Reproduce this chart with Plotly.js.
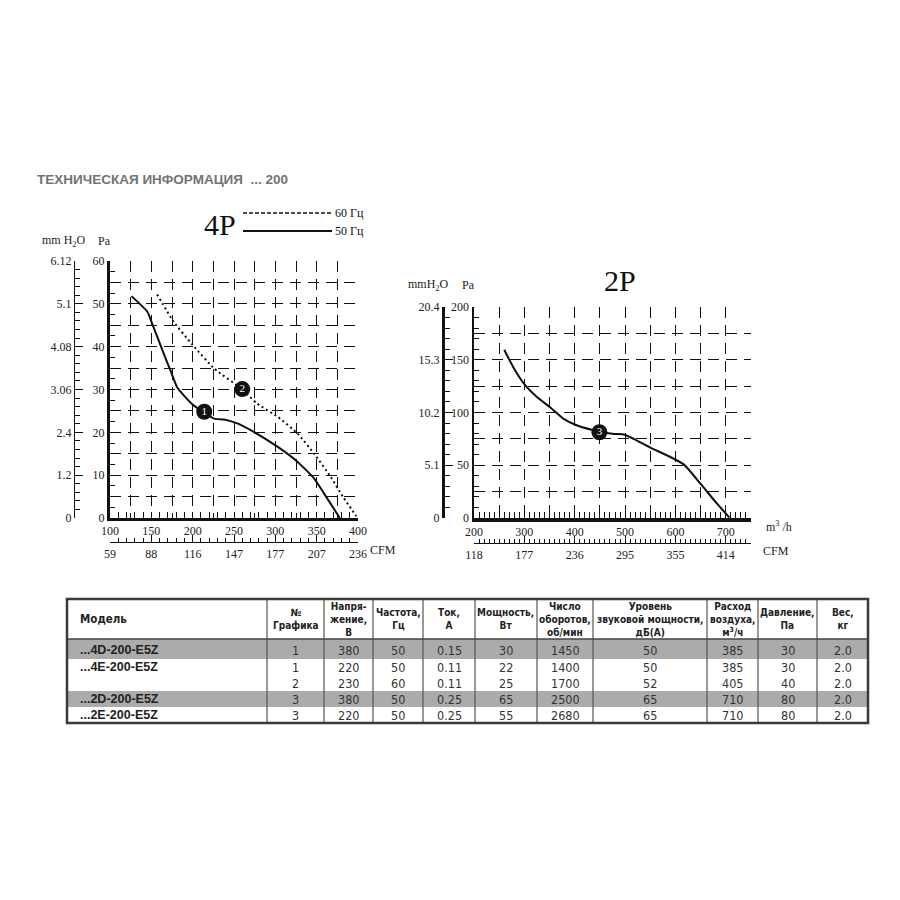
<!DOCTYPE html>
<html><head><meta charset="utf-8">
<script src="https://cdn.plot.ly/plotly-3.0.1.min.js"></script>
<style>html,body{margin:0;padding:0;background:#fff;}#chart{width:900px;height:900px;}</style>
</head><body><div id="chart"></div>
<script>
// ---- data: 4P chart (m3/h vs Pa) ----
const flow1 = [126,145,151,165,173,181,189,201,214,226,238,254,274,303,327,347,359,378];
const pres1 = [51.8,48.2,45.4,38.4,34.5,30.6,28.7,26.3,24.6,23.2,23.0,22.1,20.1,16.6,13.1,9.2,5.7,0];
const flow2 = [157,177,200,226,260,278,303,327,347,367,382,398];
const pres2 = [52.2,45.8,40.4,34.9,30.0,26.7,23.6,19.7,15.0,9.6,4.9,0.4];
const mark4PX = [214,260];
const mark4PY = [24.8,30.1];
const mark4PT = ['1','2'];
// ---- data: 2P chart ----
const flow3 = [260,278,302,325,351,378,405,449,478,498,517,551,584,617,650,683,707];
const pres3 = [159.5,143,125.6,114.6,105,94,87.7,82,79.7,79.1,75,66.5,59.2,50.6,32.3,13.3,0.5];
const mark2PX = [449];
const mark2PY = [81.3];
const mark2PT = ['3'];
// ---- tick labels ----
const pa4Vals = [0,10,20,30,40,50,60];
const mm4Text = ['0','1.2','2.4','3.06','4.08','5.1','6.12'];
const cfm4Vals = [100,150,200,250,300,350,400];
const cfm4Text = ['59','88','116','147','177','207','236'];
const m3h4Vals = [100,150,200,250,300,350,400];
const pa2Vals = [0,50,100,150,200];
const mm2Text = ['0','5.1','10.2','15.3','20.4'];
const cfm2Vals = [200,300,400,500,600,700];
const cfm2Text = ['118','177','236','295','355','414'];
const m3h2Vals = [200,300,400,500,600,700];
// ---- table data ----
const headers = ['Модель','№<br>Графика','Напря-<br>жение,<br>В','Частота,<br>Гц','Ток,<br>А','Мощность,<br>Вт','Число<br>оборотов,<br>об/мин','Уровень<br>звуковой мощности,<br>дБ(А)','Расход<br>воздуха,<br>м<sup>3</sup>/ч','Давление,<br>Па','Вес,<br>кг'];
const models = ['...4D-200-E5Z','...4E-200-E5Z','','...2D-200-E5Z','...2E-200-E5Z'];
const graphNo = ['1','1','2','3','3'];
const voltage = ['380','220','230','380','220'];
const freq = ['50','50','60','50','50'];
const current = ['0.15','0.11','0.11','0.25','0.25'];
const power = ['30','22','25','65','55'];
const rpm = ['1450','1400','1700','2500','2680'];
const noise = ['50','50','52','65','65'];
const airflow = ['385','385','405','710','710'];
const pressure = ['30','30','40','80','80'];
const weight = ['2.0','2.0','2.0','2.0','2.0'];
const grayRows = [0,3];

// ---- layout helpers ----
const W=900,H=900;
const X=p=>p/W, Y=p=>1-p/H;
const SERIF='Liberation Serif, DejaVu Serif, serif';
const NARROW='DejaVu Sans Condensed, Liberation Sans Narrow, Liberation Sans, sans-serif';
const SANS='Liberation Sans, Arial, sans-serif';
const tickFont={family:SERIF,size:12,color:'#222'};
const DASH='11px,7px';
function mainAxis(o){
  return Object.assign({showgrid:true,gridcolor:'#111',gridwidth:1,griddash:DASH,zeroline:false,showline:true,linecolor:'#111',
    fixedrange:true,tickfont:tickFont,ticks:''},o);
}
function tickAxis(over,anchor,rng,dt,t0,len){
  return {overlaying:over,anchor:anchor,range:rng,showline:false,showgrid:false,zeroline:false,showticklabels:false,
    ticks:'inside',dtick:dt,tick0:t0,ticklen:len,tickcolor:'#111',fixedrange:true};
}
function freeAxis(o){
  return Object.assign({anchor:'free',ticks:'inside',ticklen:7,tickcolor:'#111',showline:true,linewidth:1.2,linecolor:'#111',
    showgrid:false,zeroline:false,fixedrange:true,tickfont:tickFont},o);
}

const line3=(x,y,xa,ya,extra)=>Object.assign({x:x,y:y,xaxis:xa,yaxis:ya,mode:'lines',hoverinfo:'skip',
  line:{color:'#111',width:2,shape:'spline',smoothing:0.5}},extra||{});
const dummy=(xa,ya)=>({x:[null],y:[null],xaxis:xa,yaxis:ya,hoverinfo:'skip'});

const traces=[
 line3(flow1,pres1,'x','y'),
 line3(flow2,pres2,'x','y',{line:{color:'#111',width:2,dash:'2px,3px',shape:'spline',smoothing:0.5}}),
 {x:mark4PX,y:mark4PY,text:mark4PT,xaxis:'x',yaxis:'y',mode:'markers+text',marker:{size:16,color:'#111'},textposition:'middle center',textfont:{family:SERIF,size:11,color:'#fff'},hoverinfo:'skip'},
 line3(flow3,pres3,'x2','y2'),
 {x:mark2PX,y:mark2PY,text:mark2PT,xaxis:'x2',yaxis:'y2',mode:'markers+text',marker:{size:16,color:'#111'},textposition:'middle center',textfont:{family:SERIF,size:11,color:'#fff'},hoverinfo:'skip'},
 dummy('x3','y'), dummy('x','y3'), dummy('x4','y2'), dummy('x2','y4'),
 dummy('x5','y'), dummy('x','y5'), dummy('x6','y2'), dummy('x2','y6')
];

const layout={
 width:900,height:900,margin:{l:0,r:0,t:0,b:0},paper_bgcolor:'#fff',plot_bgcolor:'rgba(0,0,0,0)',showlegend:false,
 // 4P main axes
 xaxis:mainAxis({domain:[X(110),X(358)],range:[100,400],anchor:'y',tickvals:m3h4Vals,linewidth:3,
   minor:{dtick:25,tick0:100,showgrid:true,gridcolor:'#111',gridwidth:1,griddash:DASH,ticks:''}}),
 yaxis:mainAxis({domain:[Y(518),Y(261)],range:[0,60],anchor:'x',tickvals:pa4Vals,linewidth:3,
   minor:{dtick:5,tick0:0,showgrid:true,gridcolor:'#111',gridwidth:1,griddash:DASH,ticks:''}}),
 xaxis5:tickAxis('x','y',[100,400],10,100,6),
 yaxis5:tickAxis('y','x',[0,60],2.5,0,5),
 // 4P secondary scales
 xaxis3:freeAxis({overlaying:'x',position:Y(542),side:'bottom',range:[100,400],tickvals:cfm4Vals,ticktext:cfm4Text,
   minor:{ticks:'inside',dtick:10,tick0:100,ticklen:4,tickcolor:'#111',showgrid:false}}),
 yaxis3:freeAxis({overlaying:'y',position:X(74),side:'left',range:[0,60],tickvals:pa4Vals,ticktext:mm4Text,ticklen:8,
   minor:{ticks:'inside',dtick:2,tick0:0,ticklen:5,tickcolor:'#111',showgrid:false}}),
 // 2P main axes
 xaxis2:mainAxis({domain:[X(474),X(751)],range:[200,750],anchor:'y2',tickvals:m3h2Vals,linewidth:3.5,
   minor:{dtick:50,tick0:200,showgrid:true,gridcolor:'#111',gridwidth:1,griddash:DASH,ticks:''}}),
 yaxis2:mainAxis({domain:[Y(518),Y(307)],range:[0,200],anchor:'x2',tickvals:pa2Vals,linewidth:2.5,
   minor:{dtick:25,tick0:0,showgrid:true,gridcolor:'#111',gridwidth:1,griddash:DASH,ticks:''}}),
 xaxis6:tickAxis('x2','y2',[200,750],10,200,6),
 yaxis6:tickAxis('y2','x2',[0,200],10,0,5),
 // 2P secondary scales
 xaxis4:freeAxis({overlaying:'x2',position:Y(543),side:'bottom',range:[200,750],tickvals:cfm2Vals,ticktext:cfm2Text,
   minor:{ticks:'inside',dtick:10,tick0:200,ticklen:4,tickcolor:'#111',showgrid:false}}),
 yaxis4:freeAxis({overlaying:'y2',position:X(443),side:'left',range:[0,200],tickvals:pa2Vals,ticktext:mm2Text,ticklen:8,linewidth:3,
   minor:{ticks:'inside',dtick:10,tick0:0,ticklen:5,tickcolor:'#111',showgrid:false}}),
 shapes:[],annotations:[]
};

function ann(x,y,text,o){layout.annotations.push(Object.assign({xref:'paper',yref:'paper',x:X(x),y:Y(y),text:text,showarrow:false,xanchor:'center',yanchor:'middle',font:{family:SERIF,size:12,color:'#222'}},o||{}));}
function line(x0,y0,x1,y1,o){layout.shapes.push({type:'line',xref:'paper',yref:'paper',x0:X(x0),y0:Y(y0),x1:X(x1),y1:Y(y1),line:Object.assign({color:'#222',width:1},o||{})});}

// page title
ann(35,180,'ТЕХНИЧЕСКАЯ ИНФОРМАЦИЯ  ... 200',{xanchor:'left',font:{family:SANS,size:13.5,color:'#737373',weight:'bold'}});
// 4P chart labels and legend
ann(220,224,'4P',{font:{family:SERIF,size:30,color:'#111'}});
line(243,213,332,213,{dash:'4px,2px',width:1.5,color:'#111'});
line(243,231,332,231,{width:2,color:'#111'});
ann(333,213,'60 Гц',{xanchor:'left',font:{family:SERIF,size:12,color:'#111'}});
ann(333,231,'50 Гц',{xanchor:'left',font:{family:SERIF,size:12,color:'#111'}});
ann(64,241,'mm H<sub>2</sub>O',{font:{family:SERIF,size:12,color:'#222'}});
ann(104,241,'Pa',{font:{family:SERIF,size:12,color:'#222'}});
ann(383,550,'CFM',{font:{family:SERIF,size:12,color:'#222'}});
// 2P chart labels
ann(620,281,'2P',{font:{family:SERIF,size:30,color:'#111'}});
ann(428,285,'mmH<sub>2</sub>O',{font:{family:SERIF,size:12,color:'#222'}});
ann(468,285,'Pa',{font:{family:SERIF,size:12,color:'#222'}});
ann(779,526,'m<sup>3</sup> /h',{font:{family:SERIF,size:12,color:'#222'}});
ann(776,551,'CFM',{font:{family:SERIF,size:12,color:'#222'}});

// ---- table ----
const colEdges=[67,267,324,373,423,475,537,593,707,758,817,868];
const rowEdges=[639,659,675,691,707,723];
const tTop=599,tBot=723,tL=67,tR=868;
grayRows.forEach(r=>layout.shapes.push({type:'rect',xref:'paper',yref:'paper',layer:'below',x0:X(tL),x1:X(tR),y0:Y(rowEdges[r]),y1:Y(rowEdges[r+1]),fillcolor:'#ababab',line:{width:0}}));
colEdges.slice(1,-1).forEach(c=>line(c,tTop,c,tBot,{color:'#555',width:1.2}));
line(tL,639,tR,639,{color:'#444',width:1.5});
layout.shapes.push({type:'rect',xref:'paper',yref:'paper',x0:X(tL),x1:X(tR),y0:Y(tBot),y1:Y(tTop),line:{color:'#3a3a3a',width:2.5}});
headers.forEach((h,i)=>{
  const cx=(colEdges[i]+colEdges[i+1])/2;
  if(i===0) ann(78,619,h,{xanchor:'left',font:{family:NARROW,size:11.5,color:'#222',weight:'bold'}});
  else ann(cx,619,h,{font:{family:NARROW,size:10,color:'#222',weight:'bold'}});
});
const cols=[graphNo,voltage,freq,current,power,rpm,noise,airflow,pressure,weight];
for(let r=0;r<models.length;r++){
  const cy=(rowEdges[r]+rowEdges[r+1])/2+(r===0?1:0);
  if(models[r]) ann(78,cy,models[r],{xanchor:'left',font:{family:SANS,size:12.5,color:'#222',weight:'bold'}});
  cols.forEach((c,i)=>{const cx=(colEdges[i+1]+colEdges[i+2])/2; ann(cx,cy,c[r],{font:{family:NARROW,size:12.5,color:'#333'}});});
}

Plotly.newPlot('chart',traces,layout,{staticPlot:true,displayModeBar:false});
</script></body></html>
